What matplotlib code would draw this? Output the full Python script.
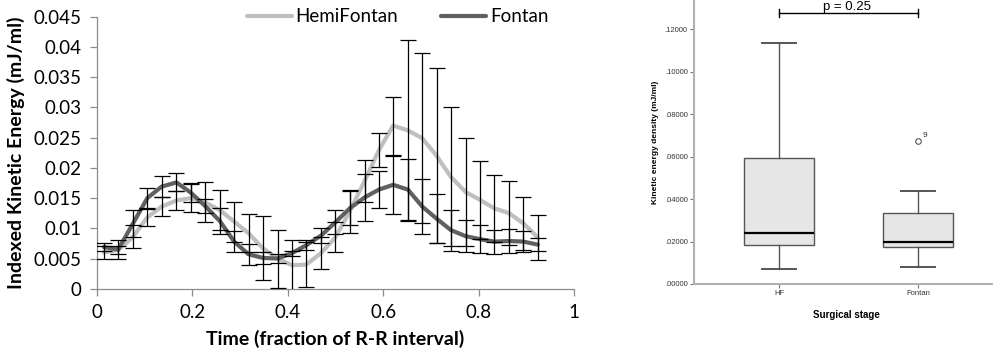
import matplotlib
matplotlib.use("Agg")
import matplotlib.pyplot as plt
from matplotlib.ticker import FixedLocator

plt.rcParams['font.family'] = ['Lato', 'DejaVu Sans']

# ---- left panel data: time points, means and SDs ----
time = [0.015, 0.045, 0.076, 0.106, 0.136, 0.167, 0.197, 0.227, 0.258, 0.288,
        0.318, 0.348, 0.379, 0.409, 0.439, 0.470, 0.500, 0.530, 0.561, 0.591,
        0.621, 0.652, 0.682, 0.712, 0.742, 0.773, 0.803, 0.833, 0.864, 0.894, 0.924]

hemi_mean = [0.0060, 0.0064, 0.0086, 0.0118, 0.0136, 0.0146, 0.0150, 0.0143, 0.0130, 0.0111,
             0.0092, 0.0067, 0.0050, 0.0039, 0.0040, 0.0059, 0.0085, 0.0128, 0.0178, 0.0229,
             0.0270, 0.0262, 0.0249, 0.0220, 0.0185, 0.0160, 0.0147, 0.0133, 0.0125, 0.0108, 0.0085]
hemi_sd = [0.0010, 0.0006, 0.0019, 0.0014, 0.0015, 0.0016, 0.0023, 0.0033, 0.0033, 0.0033,
           0.0031, 0.0053, 0.0048, 0.0042, 0.0037, 0.0027, 0.0025, 0.0036, 0.0035, 0.0028,
           0.0048, 0.0150, 0.0141, 0.0145, 0.0115, 0.0090, 0.0065, 0.0055, 0.0053, 0.0044, 0.0037]

fontan_mean = [0.0069, 0.0065, 0.0108, 0.0150, 0.0169, 0.0176, 0.0159, 0.0137, 0.0112, 0.0078,
               0.0057, 0.0051, 0.0050, 0.0059, 0.0072, 0.0088, 0.0110, 0.0133, 0.0151, 0.0164,
               0.0172, 0.0164, 0.0136, 0.0116, 0.0097, 0.0087, 0.0082, 0.0078, 0.0079, 0.0078, 0.0073]
fontan_sd = [0.0006, 0.0015, 0.0023, 0.0016, 0.0017, 0.0015, 0.0016, 0.0012, 0.0022, 0.0018,
             0.0017, 0.0010, 0.0008, 0.0004, 0.0008, 0.0012, 0.0020, 0.0028, 0.0039, 0.0031,
             0.0048, 0.0050, 0.0046, 0.0040, 0.0034, 0.0027, 0.0023, 0.0020, 0.0020, 0.0018, 0.0011]

x_ticks = [0, 0.2, 0.4, 0.6, 0.8, 1]
x_labels = ['0', '0.2', '0.4', '0.6', '0.8', '1']
y_ticks = [0, 0.005, 0.01, 0.015, 0.02, 0.025, 0.03, 0.035, 0.04, 0.045]
y_labels = ['0', '0.005', '0.01', '0.015', '0.02', '0.025', '0.03', '0.035', '0.04', '0.045']

# ---- right panel data: box plot summary ----
groups = ['HF', 'Fontan']
whislo = [0.0069, 0.0081]
q1 = [0.0182, 0.0176]
med = [0.0241, 0.0198]
q3 = [0.0592, 0.0333]
whishi = [0.1136, 0.0439]
outliers = [[], [0.0673]]
outlier_ids = ['', '9']
box_ticks = [0.0, 0.02, 0.04, 0.06, 0.08, 0.10, 0.12]
box_labels = ['.00000', '.02000', '.04000', '.06000', '.08000', '.10000', '.12000']
p_text = 'p = 0.25'

fig = plt.figure(figsize=(9.93, 3.5), dpi=100, facecolor='white')

# ================= left panel =================
ax = fig.add_axes([0.0974, 0.175, 0.4807, 0.777])
light = '#bfbfbf'
dark = '#606060'
ax.plot(time, hemi_mean, color=light, lw=3, solid_joinstyle='round',
        solid_capstyle='round', label='HemiFontan', zorder=2)
ax.plot(time, fontan_mean, color=dark, lw=3, solid_joinstyle='round',
        solid_capstyle='round', label='Fontan', zorder=3)
ax.errorbar(time, hemi_mean, yerr=hemi_sd, fmt='none', ecolor='black',
            elinewidth=0.9, capsize=5.5, capthick=0.9, zorder=4)
ax.errorbar(time, fontan_mean, yerr=fontan_sd, fmt='none', ecolor='black',
            elinewidth=0.9, capsize=5.5, capthick=0.9, zorder=4)

ax.set_xlim(0, 1)
ax.set_ylim(0, 0.045)
ax.set_xticks(x_ticks)
ax.set_xticklabels(x_labels)
ax.set_yticks(y_ticks)
ax.set_yticklabels(y_labels)
for s in ['top', 'right']:
    ax.spines[s].set_visible(False)
for s in ['left', 'bottom']:
    ax.spines[s].set_color('#8c8c8c')
    ax.spines[s].set_linewidth(0.9)
ax.tick_params(axis='both', direction='out', length=5, width=0.9, color='#8c8c8c',
               labelsize=13.5, pad=6)
ax.set_xlabel('Time (fraction of R-R interval)', fontsize=14, fontweight='bold')
ax.set_ylabel('Indexed Kinetic Energy (mJ/ml)', fontsize=14, fontweight='bold')
ax.xaxis.set_label_coords(0.5, -0.15)
ax.yaxis.set_label_coords(-0.15, 0.5)

leg = ax.legend(loc='center', bbox_to_anchor=(0.63, 1.0), ncol=2, frameon=False,
                fontsize=13.5, handlelength=2.4, handletextpad=0.2, columnspacing=2.3,
                borderaxespad=0)

# ================= right panel =================
bx = fig.add_axes([0.6989, 0.1886, 0.3011, 0.8114])
stats = []
for i in range(len(groups)):
    stats.append(dict(label=groups[i], whislo=whislo[i], q1=q1[i], med=med[i],
                      q3=q3[i], whishi=whishi[i], fliers=outliers[i]))
edge = '#555555'
bx.bxp(stats, positions=[1, 2], widths=0.5, capwidths=0.24, patch_artist=True,
       boxprops=dict(facecolor='#e6e6e6', edgecolor=edge, linewidth=1.0),
       medianprops=dict(color='black', linewidth=1.6),
       whiskerprops=dict(color=edge, linewidth=1.0),
       capprops=dict(color=edge, linewidth=1.4),
       flierprops=dict(marker='o', markersize=4, markerfacecolor='none',
                       markeredgecolor='#555555', markeredgewidth=0.8))
for i in range(len(groups)):
    for v in outliers[i]:
        bx.annotate(outlier_ids[i], (i + 1, v), xytext=(3, 3), textcoords='offset points',
                    fontsize=6, color='#333333', family=['Liberation Sans'])

bx.set_xlim(0.388, 2.54)
bx.set_ylim(0, 0.1337)
bx.yaxis.set_major_locator(FixedLocator(box_ticks))
bx.set_yticklabels(box_labels)
bx.set_xticks([1, 2])
bx.set_xticklabels(groups)
for s in ['top', 'right']:
    bx.spines[s].set_visible(False)
for s in ['left', 'bottom']:
    bx.spines[s].set_color('#b0b0b0')
    bx.spines[s].set_linewidth(1.5)
bx.tick_params(axis='both', direction='out', length=3, width=0.8, color='#777777',
               labelsize=5.5, labelcolor='#333333', pad=1.5)
for t in bx.get_xticklabels() + bx.get_yticklabels():
    t.set_family(['Liberation Sans'])
bx.set_ylabel('Kinetic energy density (mJ/ml)', fontsize=6, fontweight='bold',
              family=['Liberation Sans'])
bx.yaxis.set_label_coords(-0.117, 0.5)
bx.set_xlabel('Surgical stage', fontsize=7, fontweight='bold', family=['Liberation Sans'])
bx.xaxis.set_label_coords(0.51, -0.09)

# significance bracket
yb = 0.1274
bx.plot([1, 2], [yb, yb], color='black', lw=1.0, clip_on=False)
bx.plot([1, 1], [yb - 0.0019, yb + 0.0019], color='black', lw=1.0, clip_on=False)
bx.plot([2, 2], [yb - 0.0019, yb + 0.0019], color='black', lw=1.0, clip_on=False)
fig.text(0.853, 0.972, p_text, ha='center', va='baseline', fontsize=9.5,
         family=['Liberation Sans'])

fig.savefig('out.png', dpi=100, facecolor='white')
